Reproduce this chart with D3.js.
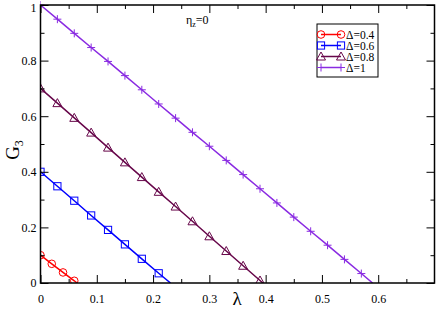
<!DOCTYPE html>
<html>
<head>
<meta charset="utf-8">
<script src="https://cdn.jsdelivr.net/npm/d3@7"></script>
<style>
  body { margin: 0; background: #fff; }
</style>
</head>
<body>
<script>
// lambda values at the markers (step 0.03, the Δ=0.4 curve uses 0.02)
const lam04 = [0, 0.02, 0.04, 0.06];
const g04 = [0.1, 0.069, 0.038, 0.008];
const end04 = [0.065, 0];

const lam06 = [0, 0.03, 0.06, 0.09, 0.12, 0.15, 0.18, 0.21];
const g06 = [0.4, 0.348, 0.296, 0.243, 0.191, 0.139, 0.087, 0.035];
const end06 = [0.231, 0];

const lam08 = [0, 0.03, 0.06, 0.09, 0.12, 0.15, 0.18, 0.21, 0.24, 0.27, 0.30, 0.33, 0.36, 0.39];
const g08 = [0.7, 0.647, 0.594, 0.541, 0.487, 0.434, 0.381, 0.328, 0.275, 0.222, 0.168, 0.115, 0.062, 0.009];
const end08 = [0.395, 0];

const lam1 = [0, 0.03, 0.06, 0.09, 0.12, 0.15, 0.18, 0.21, 0.24, 0.27, 0.30, 0.33, 0.36, 0.39, 0.42, 0.45, 0.48, 0.51, 0.54, 0.57];
const g1 = [1, 0.949, 0.898, 0.847, 0.797, 0.746, 0.695, 0.644, 0.593, 0.542, 0.492, 0.441, 0.390, 0.339, 0.288, 0.237, 0.186, 0.136, 0.085, 0.034];
const end1 = [0.59, 0];

const labels = ["\u0394=0.4", "\u0394=0.6", "\u0394=0.8", "\u0394=1"];
const xTicks = [0, 0.1, 0.2, 0.3, 0.4, 0.5, 0.6];
const yTicks = [0, 0.2, 0.4, 0.6, 0.8, 1];

const FONT = "'Liberation Serif', 'Times New Roman', 'DejaVu Serif', serif";
const W = 436, H = 311;
const m = {left: 40.5, right: 1.5, top: 5, bottom: 28};

const svg = d3.select("body").append("svg")
  .attr("width", W).attr("height", H)
  .attr("font-family", FONT);

const x = d3.scaleLinear().domain([0, 0.7]).range([m.left, W - m.right]);
const y = d3.scaleLinear().domain([0, 1]).range([H - m.bottom, m.top]);

const series = [
  {lam: lam04, g: g04, end: end04, color: "#ff0000", shape: "circle"},
  {lam: lam06, g: g06, end: end06, color: "#0000ff", shape: "square"},
  {lam: lam08, g: g08, end: end08, color: "#67074a", shape: "triangle"},
  {lam: lam1, g: g1, end: end1, color: "#8a2be2", shape: "plus"}
];

svg.append("clipPath").attr("id", "c").append("rect")
  .attr("x", m.left).attr("y", m.top - 6)
  .attr("width", W - m.right - m.left).attr("height", H - m.bottom - m.top + 6);

function marker(g, shape, color) {
  if (shape === "circle") {
    g.append("circle").attr("r", 3.8).attr("fill", "none").attr("stroke", color).attr("stroke-width", 1);
  } else if (shape === "square") {
    g.append("rect").attr("x", -3.6).attr("y", -3.6).attr("width", 7.2).attr("height", 7.2)
      .attr("fill", "none").attr("stroke", color).attr("stroke-width", 1);
  } else if (shape === "triangle") {
    g.append("path").attr("d", "M0,-4.5L4.5,3.5L-4.5,3.5Z")
      .attr("fill", "none").attr("stroke", color).attr("stroke-width", 1);
  } else {
    g.append("path").attr("d", "M-4,0H4M0,-4V4")
      .attr("fill", "none").attr("stroke", color).attr("stroke-width", 1);
  }
}

const plot = svg.append("g").attr("clip-path", "url(#c)");
const line = d3.line().x(d => x(d[0])).y(d => y(d[1]));

series.forEach(s => {
  const pts = s.lam.map((l, i) => [l, s.g[i]]);
  plot.append("path").attr("d", line(pts.concat([s.end])))
    .attr("fill", "none").attr("stroke", s.color).attr("stroke-width", 1.5);
  pts.forEach(p => {
    const g = plot.append("g").attr("transform", `translate(${x(p[0])},${y(p[1])})`);
    marker(g, s.shape, s.color);
  });
});

// frame
svg.append("rect")
  .attr("x", m.left).attr("y", m.top)
  .attr("width", W - m.right - m.left).attr("height", H - m.bottom - m.top)
  .attr("fill", "none").attr("stroke", "#000").attr("stroke-width", 1.5);

// axes with inward ticks on all four sides
const xMinor = d3.range(0.05, 0.7, 0.1);
const yMinor = d3.range(0.1, 1, 0.2);

function ax(axis, tx, ty) {
  return svg.append("g").attr("transform", `translate(${tx},${ty})`)
    .call(axis)
    .call(g => g.select(".domain").remove())
    .attr("font-family", FONT);
}

ax(d3.axisBottom(x).tickValues(xTicks).tickSize(-8).tickPadding(11).tickFormat(d3.format("")), 0, H - m.bottom);
ax(d3.axisBottom(x).tickValues(xMinor).tickSize(-4).tickFormat(""), 0, H - m.bottom);
ax(d3.axisTop(x).tickValues(xTicks).tickSize(-8).tickFormat(""), 0, m.top);
ax(d3.axisTop(x).tickValues(xMinor).tickSize(-4).tickFormat(""), 0, m.top);
const yAx = ax(d3.axisLeft(y).tickValues(yTicks).tickSize(-8).tickPadding(4).tickFormat(d3.format("")), m.left, 0);
ax(d3.axisLeft(y).tickValues(yMinor).tickSize(-4).tickFormat(""), m.left, 0);
ax(d3.axisRight(y).tickValues(yTicks).tickSize(-8).tickFormat(""), W - m.right, 0);
ax(d3.axisRight(y).tickValues(yMinor).tickSize(-4).tickFormat(""), W - m.right, 0);

svg.selectAll(".tick line").attr("stroke", "#000");
svg.selectAll(".tick text").attr("font-size", 12).attr("fill", "#000");
// keep the top label inside the picture
yAx.selectAll(".tick text").filter(d => d === 1).attr("dy", "0.55em");

// axis titles
svg.append("text").attr("x", 237).attr("y", 305).attr("text-anchor", "middle")
  .attr("font-size", 19).text("\u03bb");
const gt = svg.append("text").attr("transform", "translate(19,150) rotate(-90)")
  .attr("text-anchor", "middle").attr("font-size", 19);
gt.append("tspan").text("G");
gt.append("tspan").attr("font-size", 12).attr("dy", 4).text("3");

// annotation
const ann = svg.append("text").attr("x", 186).attr("y", 24).attr("font-size", 12);
ann.append("tspan").text("\u03b7");
ann.append("tspan").attr("font-size", 8).attr("dy", 3).text("z");
ann.append("tspan").attr("dy", -3).text("=0");

// legend
const lg = svg.append("g").attr("transform", "translate(317,24)");
lg.append("rect").attr("width", 61).attr("height", 53)
  .attr("fill", "#fff").attr("stroke", "#000").attr("stroke-width", 1);
series.forEach((s, i) => {
  const yy = 10.5 + i * 11;
  lg.append("line").attr("x1", 4).attr("x2", 24).attr("y1", yy).attr("y2", yy)
    .attr("stroke", s.color).attr("stroke-width", 1.5);
  [4, 24].forEach(xx => {
    const g = lg.append("g").attr("transform", `translate(${xx},${yy})`);
    marker(g, s.shape, s.color);
  });
  lg.append("text").attr("x", 29).attr("y", yy + 4).attr("font-size", 11.5).text(labels[i]);
});
</script>
</body>
</html>
